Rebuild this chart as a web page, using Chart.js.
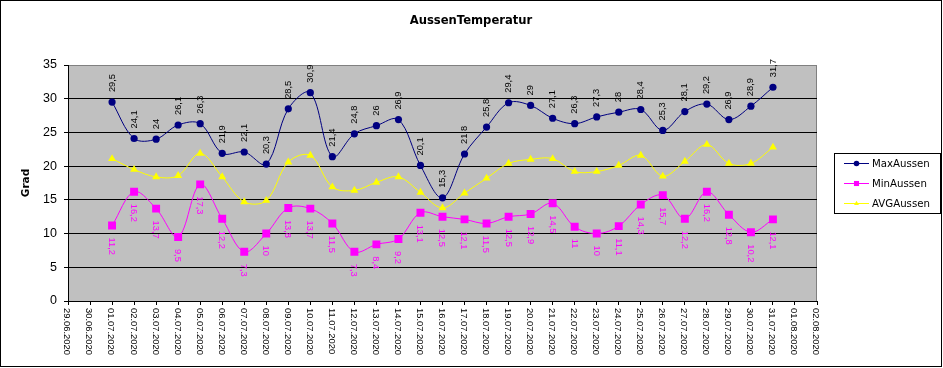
<!DOCTYPE html>
<html>
<head>
<meta charset="utf-8">
<script src="https://cdn.jsdelivr.net/npm/chart.js@4.4.1/dist/chart.umd.min.js"></script>
<style>
  html, body { margin: 0; padding: 0; background: #fff; }
  #wrap { width: 943px; height: 368px; }
</style>
</head>
<body>
<div id="wrap"><canvas id="c" width="943" height="368"></canvas></div>
<script>
const chartTitle = 'AussenTemperatur';
const yTitle = 'Grad';
const categories = [
  '29.06.2020','30.06.2020',
  '01.07.2020','02.07.2020','03.07.2020','04.07.2020','05.07.2020','06.07.2020','07.07.2020',
  '08.07.2020','09.07.2020','10.07.2020','11.07.2020','12.07.2020','13.07.2020','14.07.2020',
  '15.07.2020','16.07.2020','17.07.2020','18.07.2020','19.07.2020','20.07.2020','21.07.2020',
  '22.07.2020','23.07.2020','24.07.2020','25.07.2020','26.07.2020','27.07.2020','28.07.2020',
  '29.07.2020','30.07.2020','31.07.2020',
  '01.08.2020','02.08.2020'
];
// values for 01.07.2020 .. 31.07.2020
const maxAussen = [29.5,24.1,24,26.1,26.3,21.9,22.1,20.3,28.5,30.9,21.4,24.8,26,26.9,20.1,15.3,
                   21.8,25.8,29.4,29,27.1,26.3,27.3,28,28.4,25.3,28.1,29.2,26.9,28.9,31.7];
const minAussen = [11.2,16.2,13.7,9.5,17.3,12.2,7.3,10,13.8,13.7,11.5,7.3,8.4,9.2,13.1,12.5,
                   12.1,11.5,12.5,12.9,14.5,11,10,11.1,14.3,15.7,12.2,16.2,12.8,10.2,12.1];
const avgAussen = [21.1,19.5,18.4,18.6,21.9,18.4,14.7,14.9,20.6,21.6,16.9,16.4,17.6,18.4,16.1,13.8,
                   16.0,18.2,20.4,21.0,21.1,19.2,19.2,20.1,21.6,18.5,20.7,23.2,20.4,20.4,22.8];
const yTicks = [0,5,10,15,20,25,30,35];
const seriesNames = ['MaxAussen','MinAussen','AVGAussen'];
const seriesColors = ['#000080','#FF00FF','#FFFF00'];
const seriesPoints = ['circle','rect','triangle'];

const pad = arr => [null, null, ...arr, null, null];
const fmt = v => String(v).replace('.', ',');

const decorPlugin = {
  id: 'decor',
  beforeDraw(chart) {
    const ctx = chart.ctx, a = chart.chartArea;
    ctx.save();
    ctx.fillStyle = '#fff';
    ctx.fillRect(0, 0, chart.width, chart.height);
    ctx.fillStyle = '#C0C0C0';
    ctx.fillRect(a.left, a.top, a.right - a.left, a.bottom - a.top);
    ctx.strokeStyle = '#808080';
    ctx.lineWidth = 1;
    ctx.strokeRect(a.left + 0.5, a.top + 0.5, a.right - a.left - 1, a.bottom - a.top);
    ctx.restore();
  },
  afterDatasetsDraw(chart) {
    const ctx = chart.ctx;
    ctx.save();
    ctx.font = '9.3px "Liberation Sans", Arial, sans-serif';
    ctx.textBaseline = 'middle';
    ctx.textAlign = 'left';
    // Max labels above (reading upward)
    chart.getDatasetMeta(0).data.forEach((p, i) => {
      const v = chart.data.datasets[0].data[i];
      if (v == null) return;
      ctx.save();
      ctx.fillStyle = '#000';
      ctx.translate(p.x, p.y - 10);
      ctx.rotate(-Math.PI / 2);
      ctx.fillText(fmt(v), 0, 0);
      ctx.restore();
    });
    // Min labels below (reading downward)
    chart.getDatasetMeta(1).data.forEach((p, i) => {
      const v = chart.data.datasets[1].data[i];
      if (v == null) return;
      ctx.save();
      ctx.fillStyle = '#FF00FF';
      ctx.translate(p.x - 0.5, p.y + 12);
      ctx.rotate(Math.PI / 2);
      ctx.fillText(fmt(v), 0, 0);
      ctx.restore();
    });
    ctx.restore();
  },
  afterDraw(chart) {
    const ctx = chart.ctx;
    const xs = chart.scales.x;
    ctx.save();
    // x tick labels, reading downward
    ctx.fillStyle = '#000';
    ctx.font = '9.4px "Liberation Sans", Arial, sans-serif';
    ctx.textBaseline = 'middle';
    ctx.textAlign = 'left';
    categories.forEach((lab, i) => {
      const x = xs.getPixelForTick(i);
      ctx.save();
      ctx.translate(x - 1, xs.top + 7);
      ctx.rotate(Math.PI / 2);
      ctx.fillText(lab, 0, 0);
      ctx.restore();
    });
    // title
    ctx.font = 'bold 11.6px "DejaVu Sans", sans-serif';
    ctx.textAlign = 'center';
    ctx.fillText(chartTitle, 471, 21);
    // y title
    ctx.save();
    ctx.font = 'bold 10.5px "DejaVu Sans", sans-serif';
    ctx.translate(26, 183);
    ctx.rotate(-Math.PI / 2);
    ctx.textAlign = 'center';
    ctx.fillText(yTitle, 0, 0);
    ctx.restore();
    // legend
    const lx = 834, ly = 153, lw = 106, lh = 60;
    ctx.strokeStyle = '#000';
    ctx.lineWidth = 1;
    ctx.strokeRect(lx + 0.5, ly + 0.5, lw, lh);
    ctx.font = '10.2px "DejaVu Sans", sans-serif';
    ctx.textAlign = 'left';
    seriesNames.forEach((name, i) => {
      const y = 163 + i * 20;
      ctx.strokeStyle = seriesColors[i];
      ctx.beginPath();
      ctx.moveTo(844, y + 0.5);
      ctx.lineTo(869, y + 0.5);
      ctx.stroke();
      ctx.fillStyle = seriesColors[i];
      Chart.helpers.drawPoint(ctx, {pointStyle: seriesPoints[i], radius: i === 1 ? 3.6 : 2.8, borderWidth: 0}, 856.5, y + 0.5);
      ctx.fillStyle = '#000';
      ctx.fillText(name, 872, y + 1);
    });
    // outer border
    ctx.strokeStyle = '#000';
    ctx.strokeRect(0.5, 0.5, 941, 366);
    ctx.restore();
  }
};

new Chart(document.getElementById('c'), {
  type: 'line',
  data: {
    labels: categories,
    datasets: [
      { label: seriesNames[0], data: pad(maxAussen), borderColor: seriesColors[0], backgroundColor: seriesColors[0],
        pointStyle: seriesPoints[0], pointRadius: 3.6, borderWidth: 1, pointBorderWidth: 0, tension: 0.35 },
      { label: seriesNames[1], data: pad(minAussen), borderColor: seriesColors[1], backgroundColor: seriesColors[1],
        pointStyle: seriesPoints[1], pointRadius: 5.6, borderWidth: 1, pointBorderWidth: 0, tension: 0.35 },
      { label: seriesNames[2], data: pad(avgAussen), borderColor: seriesColors[2], backgroundColor: seriesColors[2],
        pointStyle: seriesPoints[2], pointRadius: 4.6, borderWidth: 1, pointBorderWidth: 0, tension: 0.35 }
    ]
  },
  options: {
    responsive: false,
    animation: false,
    devicePixelRatio: 1,
    layout: { padding: { left: 0, right: 126, top: 65, bottom: 0 } },
    plugins: { legend: { display: false }, title: { display: false }, tooltip: { enabled: false } },
    scales: {
      x: {
        type: 'category',
        offset: false,
        grid: { display: true, drawOnChartArea: false, drawTicks: true, tickLength: 4, color: '#000' },
        border: { display: true, color: '#000', width: 1 },
        ticks: { display: false, autoSkip: false },
        afterFit: s => { s.height = 67; }
      },
      y: {
        min: 0, max: 35,
        afterBuildTicks: s => { s.ticks = yTicks.map(v => ({ value: v })); },
        grid: { color: ctx => (ctx.tick && ctx.tick.value === 35 ? '#808080' : '#000'), tickColor: '#000', tickLength: 4, lineWidth: 1 },
        border: { display: true, color: '#000', width: 1 },
        ticks: { color: '#000', padding: 7, font: { family: '"Liberation Sans", Arial, sans-serif', size: 12.5 } },
        afterFit: s => { s.width = 68; }
      }
    }
  },
  plugins: [decorPlugin]
});
</script>
</body>
</html>
